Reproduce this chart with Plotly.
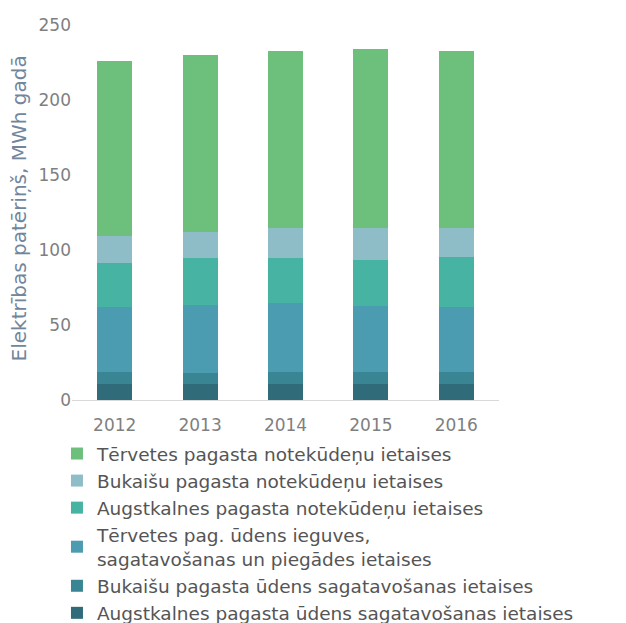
import plotly.graph_objects as go

years = ["2012", "2013", "2014", "2015", "2016"]

# stacked bottom -> top
augstkalnes_udens = [11, 11, 11, 11, 11]
bukaisu_udens = [7.5, 7.3, 7.7, 7.7, 7.7]
tervetes_udens = [43.5, 45.3, 46.0, 44.3, 43.3]
augstkalnes_notek = [29.3, 31.1, 30.0, 30.3, 33.3]
bukaisu_notek = [18.0, 17.5, 20.0, 21.4, 19.4]
tervetes_notek = [116.9, 117.8, 118.2, 119.3, 118.0]

series = [
    ("Augstkalnes pagasta ūdens sagatavošanas ietaises", augstkalnes_udens, "#2f6b79"),
    ("Bukaišu pagasta ūdens sagatavošanas ietaises", bukaisu_udens, "#3a8593"),
    ("Tērvetes pag. ūdens ieguves,<br>sagatavošanas un piegādes ietaises", tervetes_udens, "#4b9bb1"),
    ("Augstkalnes pagasta notekūdeņu ietaises", augstkalnes_notek, "#47b3a2"),
    ("Bukaišu pagasta notekūdeņu ietaises", bukaisu_notek, "#8ebdc8"),
    ("Tērvetes pagasta notekūdeņu ietaises", tervetes_notek, "#6dbf7c"),
]

y_title = "Elektrības patēriņš, MWh gadā"

FONT = "DejaVu Sans"

fig = go.Figure()
for name, vals, col in series:
    fig.add_trace(go.Bar(x=years, y=vals, name=name, marker=dict(color=col, line=dict(width=0))))

fig.update_layout(
    barmode="stack",
    bargap=0.59,
    width=626, height=623,
    margin=dict(l=72, r=127, t=25, b=223, autoexpand=False),
    plot_bgcolor="white", paper_bgcolor="white",
    font=dict(family=FONT, color="#7f7f7f", size=17),
    showlegend=True,
    legend=dict(
        traceorder="reversed",
        xref="container", yref="container",
        x=0.091, y=1 - 435 / 623, xanchor="left", yanchor="top",
        font=dict(family=FONT, size=18.5, color="#555555"),
        itemwidth=30, tracegroupgap=0, maxheight=1.0,
        bgcolor="rgba(0,0,0,0)",
    ),
    yaxis=dict(
        range=[0, 250], dtick=50, showgrid=False, zeroline=False,
        showline=False, ticks="", automargin=False,
        tickfont=dict(family=FONT, size=17, color="#7f7f7f"),
    ),
    xaxis=dict(
        showgrid=False, showline=True, linecolor="#d9d9d9", linewidth=1,
        ticks="", automargin=False, ticklabelstandoff=10,
        tickfont=dict(family=FONT, size=17, color="#7f7f7f"),
    ),
    annotations=[dict(
        text=y_title, xref="paper", yref="paper", x=-0.125, y=0.51,
        xanchor="center", yanchor="middle", textangle=-90, showarrow=False,
        font=dict(family=FONT, size=20, color="#71869c"),
    )],
)

fig.write_html("out.html", config={"displayModeBar": False},
               post_script="document.body.style.margin='0';")
